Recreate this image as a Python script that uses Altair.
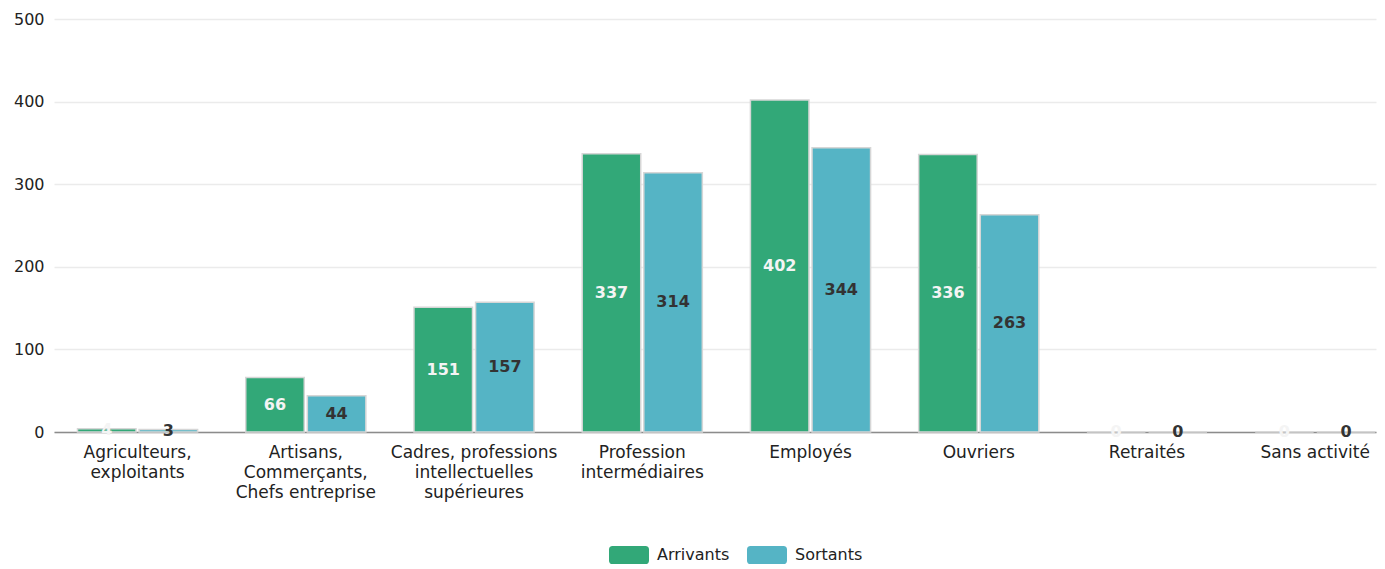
import altair as alt
import pandas as pd

categories = [
    "Agriculteurs,\nexploitants",
    "Artisans,\nCommerçants,\nChefs entreprise",
    "Cadres, professions\nintellectuelles\nsupérieures",
    "Profession\nintermédiaires",
    "Employés",
    "Ouvriers",
    "Retraités",
    "Sans activité",
]
series = ["Arrivants", "Sortants"]
arrivants = [4, 66, 151, 337, 402, 336, 0, 0]
sortants = [3, 44, 157, 314, 344, 263, 0, 0]
colors = ["#32A878", "#55B4C5"]
label_colors = ["#F4F4F4", "#333333"]

rows = []
for c, a, s in zip(categories, arrivants, sortants):
    rows.append({"cat": c, "serie": "Arrivants", "value": a})
    rows.append({"cat": c, "serie": "Sortants", "value": s})
df = pd.DataFrame(rows)

FONT = "DejaVu Sans"

x = alt.X(
    "cat:N",
    sort=categories,
    scale=alt.Scale(paddingInner=0.286, paddingOuter=0.072, align=0.97),
    axis=alt.Axis(
        title=None,
        labelExpr="split(datum.value, '\\n')",
        labelAngle=0,
        ticks=False,
        domainColor="#8c8c8c",
        domainWidth=1.5,
        labelPadding=12,
        labelFontSize=17,
        labelLineHeight=20,
        labelColor="#222222",
        labelFont=FONT,
        labelBaseline="top",
    ),
)
xo = alt.XOffset("serie:N", sort=series, scale=alt.Scale(paddingInner=0.05))

bars = alt.Chart(df).mark_bar(stroke="#d6d6d6", strokeWidth=1.5).encode(
    x=x,
    xOffset=xo,
    y=alt.Y(
        "value:Q",
        scale=alt.Scale(domain=[0, 500]),
        axis=alt.Axis(
            title=None,
            values=[0, 100, 200, 300, 400, 500],
            ticks=False,
            domain=False,
            gridColor="#ebebeb",
            gridWidth=1.5,
            labelPadding=10,
            labelFontSize=16,
            labelColor="#222222",
            labelFont=FONT,
        ),
    ),
    color=alt.Color(
        "serie:N",
        sort=series,
        scale=alt.Scale(domain=series, range=colors),
        legend=alt.Legend(
            title=None,
            orient="none",
            legendX=555,
            legendY=516,
            direction="horizontal",
            symbolType="M-0.82,-0.45L0.82,-0.45Q1,-0.45 1,-0.27L1,0.27Q1,0.45 0.82,0.45L-0.82,0.45Q-1,0.45 -1,0.27L-1,-0.27Q-1,-0.45 -0.82,-0.45Z",
            symbolSize=1600,
            symbolStrokeWidth=0,
            labelFontSize=16,
            labelFont=FONT,
            labelColor="#222222",
            labelOffset=8,
            columnPadding=17,
        ),
    ),
)

labels = alt.Chart(df).transform_calculate(
    mid="datum.value / 2"
).mark_text(fontSize=16, fontWeight="bold", font=FONT, baseline="middle").encode(
    x=x,
    xOffset=xo,
    y=alt.Y("mid:Q"),
    text=alt.Text("value:Q"),
    color=alt.Color("serie:N", sort=series, scale=alt.Scale(domain=series, range=label_colors), legend=None),
)

chart = alt.layer(bars, labels).resolve_scale(color="independent").properties(
    width=1322,
    height=413,
    padding={"left": 5, "top": 3, "right": 0, "bottom": 0},
).configure_view(stroke=None)

chart.save("out.html", embed_options={"renderer": "svg", "actions": False})
